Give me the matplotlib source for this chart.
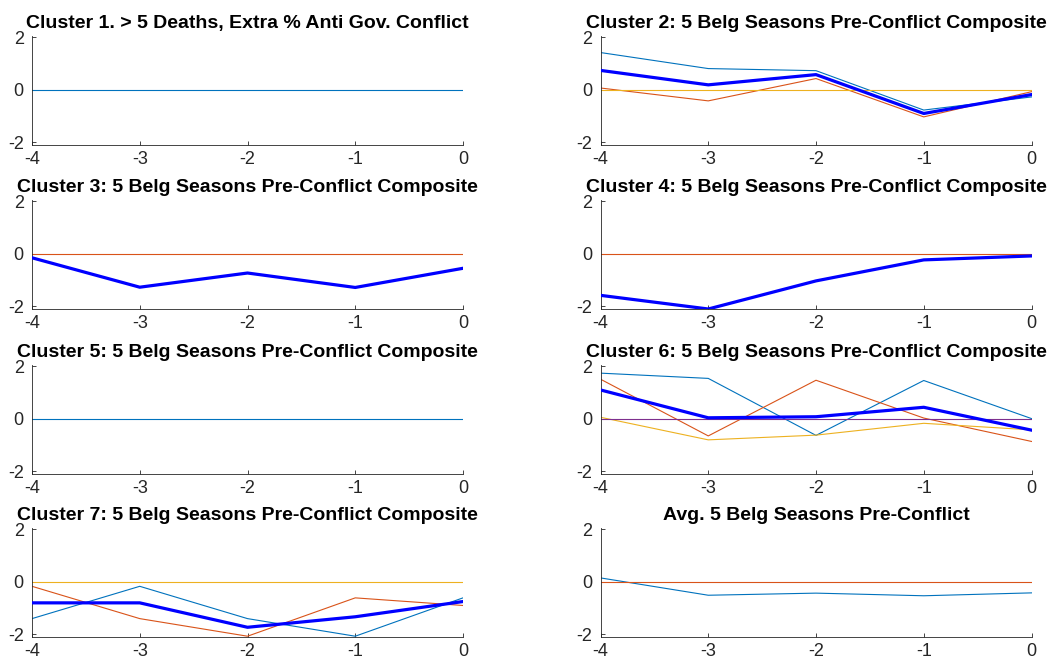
import matplotlib
matplotlib.use("Agg")
import matplotlib.pyplot as plt
import numpy as np

plt.rcParams['font.family'] = ['Liberation Sans', 'DejaVu Sans']

years = [-4, -3, -2, -1, 0]

titles = [
    "Cluster 1. > 5 Deaths, Extra % Anti Gov. Conflict",
    "Cluster 2: 5 Belg Seasons Pre-Conflict Composite",
    "Cluster 3: 5 Belg Seasons Pre-Conflict Composite",
    "Cluster 4: 5 Belg Seasons Pre-Conflict Composite",
    "Cluster 5: 5 Belg Seasons Pre-Conflict Composite",
    "Cluster 6: 5 Belg Seasons Pre-Conflict Composite",
    "Cluster 7: 5 Belg Seasons Pre-Conflict Composite",
    "Avg. 5 Belg Seasons Pre-Conflict",
]

# thin series per panel (MATLAB default color order), and composite (thick blue)
c1_series = [[0, 0, 0, 0, 0]]
c1_comp = None

c2_series = [[1.42, 0.81, 0.73, -0.77, -0.27],
             [0.07, -0.42, 0.43, -1.03, -0.07],
             [0, 0, 0, 0, 0]]
c2_comp = [0.74, 0.19, 0.58, -0.90, -0.18]

c3_series = [[-0.15, -1.27, -0.73, -1.28, -0.55],
             [0, 0, 0, 0, 0]]
c3_comp = [-0.15, -1.27, -0.73, -1.28, -0.55]

c4_series = [[-1.58, -2.10, -1.03, -0.23, -0.08],
             [0, 0, 0, 0, 0]]
c4_comp = [-1.58, -2.10, -1.03, -0.23, -0.08]

c5_series = [[0, 0, 0, 0, 0]]
c5_comp = None

c6_series = [[1.74, 1.54, -0.63, 1.46, 0.01],
             [1.51, -0.65, 1.47, 0.03, -0.86],
             [0.06, -0.80, -0.62, -0.17, -0.42],
             [0, 0, 0, 0, 0]]
c6_comp = [1.10, 0.04, 0.08, 0.44, -0.43]

c7_series = [[-1.40, -0.17, -1.40, -2.07, -0.61],
             [-0.17, -1.40, -2.07, -0.61, -0.90],
             [0, 0, 0, 0, 0]]
c7_comp = [-0.80, -0.80, -1.73, -1.33, -0.75]

avg_series = [[0.15, -0.51, -0.43, -0.53, -0.42],
              [0, 0, 0, 0, 0]]
avg_comp = None

panels = [
    (c1_series, c1_comp), (c2_series, c2_comp),
    (c3_series, c3_comp), (c4_series, c4_comp),
    (c5_series, c5_comp), (c6_series, c6_comp),
    (c7_series, c7_comp), (avg_series, avg_comp),
]

colors = ['#0072BD', '#D95319', '#EDB120', '#7E2F8E']

fig = plt.figure(figsize=(10.5, 6.6), dpi=100)
W, H = 1050, 660
lefts = [32, 600.5]
bottoms = [145, 309, 474, 637]
aw, ah = 431, 109

axc = '#262626'
for i, ((series, comp), title) in enumerate(zip(panels, titles)):
    r, c = divmod(i, 2)
    ax = fig.add_axes([lefts[c] / W, 1 - bottoms[r] / H, aw / W, ah / H])
    for j, s in enumerate(series):
        ax.plot(years, s, color=colors[j], lw=0.8, zorder=2 + j * 0.01)
    if comp is not None:
        ax.plot(years, comp, color='#0000FF', lw=2.3, zorder=3)
    ax.set_xlim(-4, 0)
    ax.set_ylim(-2.1, 2.05)
    ax.set_xticks(years)
    ax.set_xticklabels([str(y) for y in years])
    ax.set_yticks([-2, 0, 2])
    ax.set_yticklabels(['-2', '0', '2'])
    for sp in ['top', 'right']:
        ax.spines[sp].set_visible(False)
    for sp in ['left', 'bottom']:
        ax.spines[sp].set_color(axc)
        ax.spines[sp].set_linewidth(0.6)
    ax.tick_params(direction='in', length=3, width=0.6, color=axc,
                   labelcolor=axc, labelsize=13)
    ax.tick_params(axis='x', pad=4)
    ax.tick_params(axis='y', pad=6)
    ax.set_title(title, fontsize=14, fontweight='bold', pad=5.5, color='black')

fig.savefig('out.png', dpi=100)
